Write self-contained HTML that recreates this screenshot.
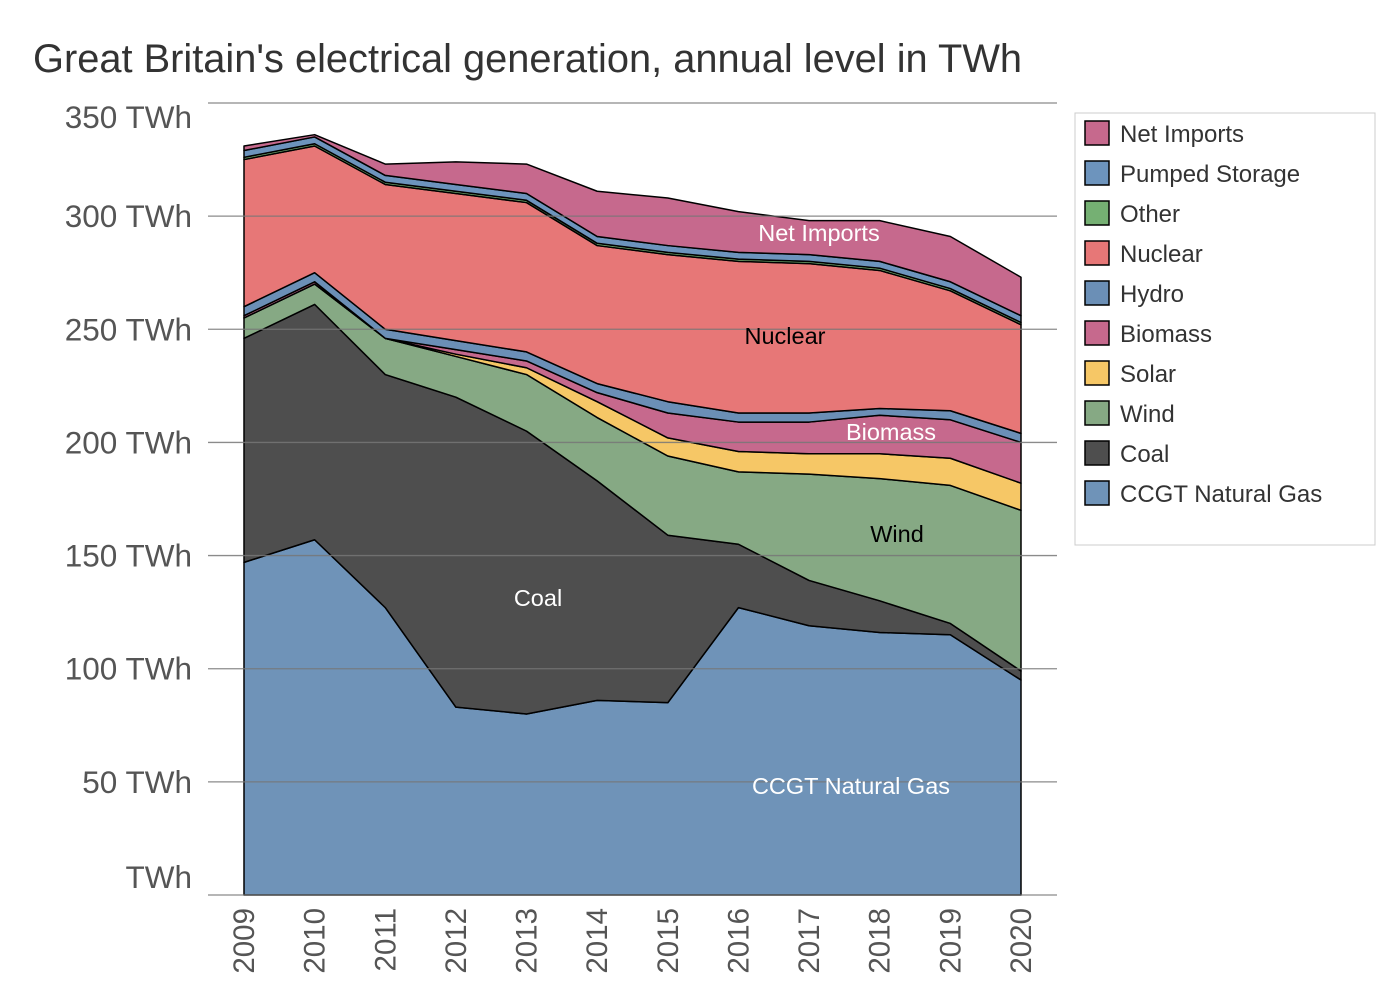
<!DOCTYPE html>
<html><head><meta charset="utf-8"><style>
body{margin:0;background:#fff;font-family:"Liberation Sans",sans-serif}
</style></head><body>
<svg id="chart" width="1400" height="1000" xmlns="http://www.w3.org/2000/svg" font-family="Liberation Sans, sans-serif">
<text x="33" y="72" font-size="39.8" fill="#333">Great Britain's electrical generation, annual level in TWh</text>
<g id="areas"></g><g id="grid"></g><g id="labels"></g><g id="axes"></g>
<g id="legend"><rect x="1075" y="113" width="300" height="432" fill="#fff" stroke="#ccc"/></g>
</svg>
<script>
const years=[2009,2010,2011,2012,2013,2014,2015,2016,2017,2018,2019,2020];
const gas=[147,157,127,83,80,86,85,127,119,116,115,95];
const coal=[99,104,103,137,125,97,74,28,20,14,5,4];
const wind=[9,9,16,18,25,28,35,32,47,54,61,71];
const solar=[0,0,0,1,3,7,8,9,9,11,12,12];
const biomass=[1,1,0,2,3,4,11,13,14,17,17,18];
const hydro=[4,4,4,4,4,4,5,4,4,3,4,4];
const nuclear=[65,56,64,65,66,61,65,67,66,61,53,48];
const other=[1,1,1,1,1,1,1,1,1,1,1,1];
const pumped=[3,3,3,3,3,3,3,3,3,3,3,3];
const imports=[2,1,5,10,13,20,21,18,15,18,20,17];
const yTicks=[0,50,100,150,200,250,300,350];
const series=[
 ["CCGT Natural Gas",gas,"#6f93b8"],["Coal",coal,"#4e4e4e"],["Wind",wind,"#86a984"],
 ["Solar",solar,"#f6c766"],["Biomass",biomass,"#c6698d"],["Hydro",hydro,"#6b8fb6"],
 ["Nuclear",nuclear,"#e77777"],["Other",other,"#75b073"],["Pumped Storage",pumped,"#6d94bd"],
 ["Net Imports",imports,"#c6698d"]];
const X=i=>244+i*(1021-244)/(years.length-1);
const Y=v=>895-v*(895-103)/350;
const NS="http://www.w3.org/2000/svg";
function mk(t,a,p){const e=document.createElementNS(NS,t);for(const k in a)e.setAttribute(k,a[k]);p.appendChild(e);return e;}
const areas=document.getElementById('areas');
let base=years.map(()=>0);
series.forEach(([name,vals,col])=>{
 const top=base.map((b,i)=>b+vals[i]);
 let d="M"+years.map((y,i)=>X(i)+","+Y(top[i])).join("L");
 for(let i=years.length-1;i>=0;i--)d+="L"+X(i)+","+Y(base[i]);
 const p=mk('path',{d:d+"Z",fill:col,stroke:"#000","stroke-width":1.5,"stroke-linejoin":"round"},areas);
 
 
 base=top;
});
const grid=document.getElementById('grid'),axes=document.getElementById('axes');
const maxT=yTicks[yTicks.length-1];
yTicks.forEach(v=>{
 const l=mk('line',{x1:208,x2:1057,y1:Y(v),y2:Y(v),stroke:"#777","stroke-width":1.3,"stroke-opacity":0.85},grid);
 
 
 const off=v===0?-7:(v===maxT?25:11);
 const t=mk('text',{x:192,y:Y(v)+off,"text-anchor":"end","font-size":31.5,fill:"#555"},axes);
 
 
 t.textContent=(v?v+" ":"")+"TWh";
});
years.forEach((y,i)=>{
 const t=mk('text',{transform:`translate(${X(i)+10},908) rotate(-90)`,"text-anchor":"end","font-size":29.5,fill:"#555"},axes);
 
 
 t.textContent=y;
});
const labs=document.getElementById('labels');
[["Net Imports",819,241,"#fff"],["Nuclear",785,344,"#000"],["Biomass",891,440,"#fff"],["Wind",897,542,"#000"],["Coal",538,606,"#fff"],["CCGT Natural Gas",851,794,"#fff"]].forEach(([s,x,y,c])=>{
 const t=mk('text',{x:x,y:y,"text-anchor":"middle","font-size":23.5,fill:c},labs);
 
 
 t.textContent=s;
});
const leg=document.getElementById('legend');
series.slice().reverse().forEach(([name,vals,col],j)=>{
 const g=mk('g',{},leg);
 
 
 mk('rect',{x:1085,y:121+j*40,width:24,height:24,fill:col,stroke:"#000","stroke-width":1.5},g);
 const t=mk('text',{x:1120,y:142+j*40,"font-size":24,fill:"#333"},g);
 t.textContent=name;
});
</script>
</body></html>
